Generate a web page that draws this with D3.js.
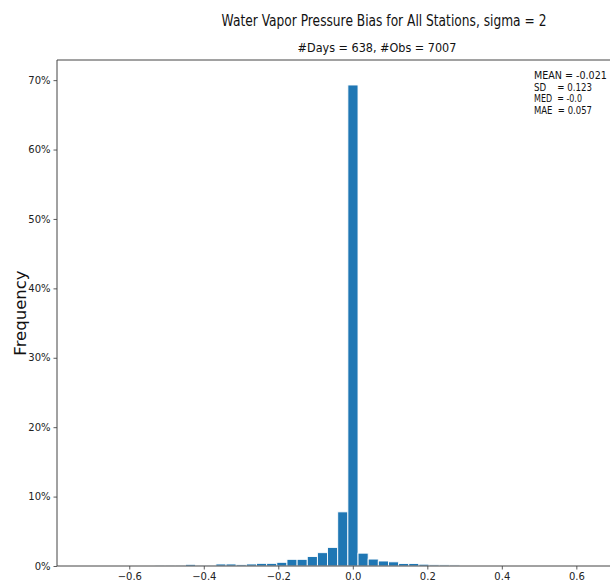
<!DOCTYPE html>
<html>
<head>
<meta charset="utf-8">
<script src="https://cdn.jsdelivr.net/npm/d3@7"></script>
<style>
  html, body { margin: 0; padding: 0; background: #fff; }
  svg { display: block; font-family: "DejaVu Sans", sans-serif; }
</style>
</head>
<body>
<svg id="chart" width="610" height="583"></svg>
<script>
// Histogram of water vapor pressure bias; bins of equal width starting at firstEdge
const firstEdge = -0.531;
const binWidth = 0.02725;
// Frequency (%) per bin, left to right
const frequency = [
  0.14, 0.14, 0.14, 0.24, 0.14, 0.14, 0.29, 0.29, 0.19, 0.29,
  0.38, 0.38, 0.53, 0.96, 0.96, 1.36, 1.92, 2.68, 7.8, 69.3,
  1.85, 1.0, 0.72, 0.6, 0.36, 0.36, 0.26, 0.17, 0.16, 0.15
];
const xTicks = [-0.6, -0.4, -0.2, 0.0, 0.2, 0.4, 0.6];
const yTicks = [0, 10, 20, 30, 40, 50, 60, 70];
const statsLines = ["MEAN = -0.021", "SD    = 0.123", "MED  = -0.0", "MAE  = 0.057"];
const titleText = "Water Vapor Pressure Bias for All Stations, sigma = 2";
const subtitleText = "#Days = 638, #Obs = 7007";
const yLabelText = "Frequency";

const bins = frequency.map((f, i) => ({
  x0: firstEdge + i * binWidth,
  x1: firstEdge + (i + 1) * binWidth,
  f
}));

const svg = d3.select("#chart");
const plotLeft = 57, plotRight = 703, plotTop = 60, plotBottom = 566;

const x = d3.scaleLinear().domain([-0.794, 0.94]).range([plotLeft, plotRight]);
const y = d3.scaleLinear().domain([0, 72.9]).range([plotBottom, plotTop]);

svg.append("rect").attr("width", 610).attr("height", 583).attr("fill", "#fff");

// bars
svg.append("g").selectAll("rect").data(bins).join("rect")
  .attr("x", d => x(d.x0))
  .attr("width", d => x(d.x1) - x(d.x0))
  .attr("y", d => y(d.f))
  .attr("height", d => y(0) - y(d.f))
  .attr("fill", "#1f77b4")
  .attr("stroke", "#fff")
  .attr("stroke-width", 0.9);

// axes
const fmtX = d => d3.format(".1f")(d).replace("-", "\u2212");
const xAxis = d3.axisBottom(x).tickValues(xTicks).tickFormat(fmtX).tickSize(3.5).tickPadding(3);
const yAxis = d3.axisLeft(y).tickValues(yTicks).tickFormat(d => d + "%").tickSize(3.5).tickPadding(3);

const gx = svg.append("g").attr("transform", `translate(0,${plotBottom})`).call(xAxis);
const gy = svg.append("g").attr("transform", `translate(${plotLeft},0)`).call(yAxis);
[gx, gy].forEach(g => {
  g.select(".domain").remove();
  g.selectAll(".tick line").attr("stroke", "#333").attr("stroke-width", 0.8);
  g.selectAll(".tick text").attr("fill", "#222").style("font-size", "10px")
    .style("font-family", "'DejaVu Sans', sans-serif");
});

// spines: left, bottom, top
svg.append("path")
  .attr("d", `M${plotRight},${plotTop}H${plotLeft}V${plotBottom}H${plotRight}`)
  .attr("fill", "none").attr("stroke", "#444").attr("stroke-width", 1);

// Narrow text: draw at the given size, then squeeze horizontally to the target width
function narrowText(parent, str, px, bx, by, width, anchor) {
  const g = parent.append("g");
  const t = g.append("text").attr("text-anchor", anchor)
    .attr("xml:space", "preserve").style("white-space", "pre")
    .style("font-size", px + "px").attr("fill", "#111").text(str);
  const natural = t.node().getComputedTextLength();
  g.attr("transform", `translate(${bx},${by}) scale(${width / natural},1)`);
  return g;
}

// titles
narrowText(svg, titleText, 16, 384, 26, 325, "middle");
narrowText(svg, subtitleText, 12, 377, 52, 159, "middle");

// y label
svg.append("text").attr("transform", "translate(26,313) rotate(-90)")
  .attr("text-anchor", "middle").style("font-size", "16.5px").attr("fill", "#111")
  .text(yLabelText);

// summary statistics
const statWidths = [73, 58, 48, 58];
statsLines.forEach((s, i) => narrowText(svg, s, 10, 534, 79 + i * 11.5, statWidths[i], "start"));
</script>
</body>
</html>
